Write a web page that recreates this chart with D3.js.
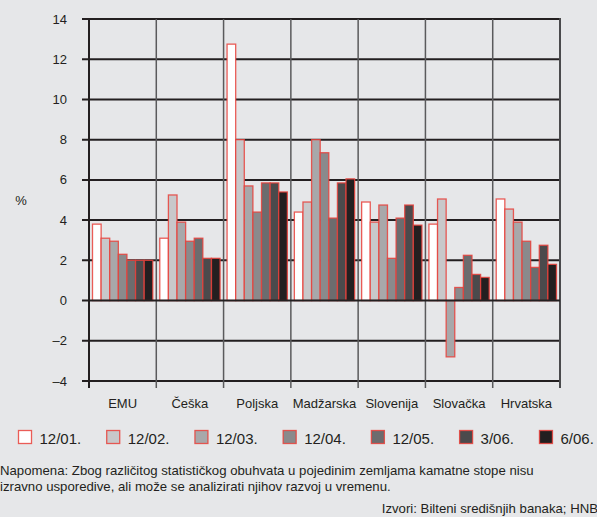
<!DOCTYPE html>
<html><head><meta charset="utf-8">
<script src="https://cdn.jsdelivr.net/npm/d3@7"></script>
<style>
html,body{margin:0;padding:0;background:#e6e7e9;}
svg{display:block;font-family:"Liberation Sans",Arial,Helvetica,sans-serif;}
</style></head>
<body>
<svg id="c" width="597" height="517"></svg>
<script>
const categories = ["EMU","Češka","Poljska","Madžarska","Slovenija","Slovačka","Hrvatska"];
const seriesNames = ["12/01.","12/02.","12/03.","12/04.","12/05.","3/06.","6/06."];
const s1201 = [3.8, 3.1, 12.75, 4.4, 4.9, 3.8, 5.05];
const s1202 = [3.1, 5.25, 8.0, 4.9, 3.9, 5.05, 4.55];
const s1203 = [2.95, 3.9, 5.7, 8.0, 4.75, -2.8, 3.9];
const s1204 = [2.3, 2.95, 4.4, 7.35, 2.1, 0.65, 2.95];
const s1205 = [2.0, 3.1, 5.85, 4.1, 4.1, 2.25, 1.65];
const s0306 = [2.0, 2.1, 5.85, 5.85, 4.75, 1.3, 2.75];
const s0606 = [2.0, 2.1, 5.4, 6.05, 3.75, 1.15, 1.8];
const yTicks = [-4,-2,0,2,4,6,8,10,12,14];
const noteLines = ["Napomena: Zbog različitog statističkog obuhvata u pojedinim zemljama kamatne stope nisu",
                   "izravno usporedive, ali može se analizirati njihov razvoj u vremenu."];
const sourceText = "Izvori: Bilteni središnjih banaka; HNB";

const series = [s1201,s1202,s1203,s1204,s1205,s0306,s0606];
const fills = ["#ffffff","#c8c8ca","#a8a8aa","#8a8a8c","#6c6c6e","#4b4a4c","#231f20"];
const red = "#e8413b";
const dark = "#231f20";

const svg = d3.select("#c");
const pLeft = 89, pRight = 560, pTop = 19, pBottom = 381;
const y = d3.scaleLinear().domain([-4,14]).range([pBottom, pTop]);
const x0 = d3.scaleBand().domain(categories).range([pLeft, pRight]);
const x1 = d3.scaleBand().domain(d3.range(7)).range([3.5, x0.bandwidth()-3.5]);

// horizontal gridlines
svg.append("g").selectAll("line").data(yTicks.filter(d=>d!==0)).join("line")
  .attr("x1", pLeft-7).attr("x2", pRight).attr("y1", d=>y(d)).attr("y2", d=>y(d))
  .attr("stroke", dark).attr("stroke-width", 2);

// category separators
const seps = categories.map(c=>x0(c)).slice(1);
svg.append("g").selectAll("line").data(seps).join("line")
  .attr("x1", d=>d).attr("x2", d=>d).attr("y1", pTop).attr("y2", pBottom+7)
  .attr("stroke", "#5a5a5c").attr("stroke-width", 1.5);
svg.append("line").attr("x1", pRight).attr("x2", pRight).attr("y1", pTop-1).attr("y2", pBottom+7)
  .attr("stroke", "#4a4a4c").attr("stroke-width", 2);

// bars
const g = svg.append("g");
categories.forEach((c, ci) => {
  series.forEach((s, si) => {
    const v = s[ci];
    g.append("rect")
      .attr("x", x0(c) + x1(si))
      .attr("width", x1.bandwidth())
      .attr("y", y(Math.max(0, v)))
      .attr("height", Math.abs(y(v) - y(0)))
      .attr("fill", fills[si])
      .attr("stroke", red).attr("stroke-opacity", 0.85).attr("stroke-width", 1.3);
  });
});

// zero line & y axis line
svg.append("line").attr("x1", pLeft-7).attr("x2", pRight).attr("y1", y(0)).attr("y2", y(0))
  .attr("stroke", dark).attr("stroke-width", 2);
svg.append("line").attr("x1", pLeft).attr("x2", pLeft).attr("y1", pTop-1).attr("y2", pBottom+7)
  .attr("stroke", dark).attr("stroke-width", 2);

// y tick labels
svg.append("g").selectAll("text").data(yTicks).join("text")
  .attr("x", 67).attr("y", d=>y(d)+4.5).attr("text-anchor","end")
  .attr("font-size", 13).attr("fill", dark)
  .text(d => d < 0 ? "\u2013" + Math.abs(d) : String(d));
svg.append("text").attr("x", 21).attr("y", 205).attr("text-anchor","middle")
  .attr("font-size", 13).attr("fill", dark).text("%");

// x labels
svg.append("g").selectAll("text").data(categories).join("text")
  .attr("x", d=>x0(d)+x0.bandwidth()/2).attr("y", 408).attr("text-anchor","middle")
  .attr("font-size", 13).attr("fill", dark).text(d=>d);

// legend
let lx = 18;
const lg = svg.append("g");
seriesNames.forEach((n, i) => {
  lg.append("rect").attr("x", lx+0.5).attr("y", 430.5).attr("width", 13).attr("height", 13)
    .attr("fill", fills[i]).attr("stroke", red).attr("stroke-width", 1.3).attr("stroke-opacity", 0.85);
  const t = lg.append("text").attr("x", lx+21.5).attr("y", 443.5).attr("font-size", 15)
    .attr("fill", dark).text(n);
  lx = lx + 21.5 + t.node().getComputedTextLength() + 25;
});

// note
svg.append("g").selectAll("text").data(noteLines).join("text")
  .attr("x", 0).attr("y", (d,i)=>475+i*15.5).attr("font-size", 13.2).attr("fill", dark).text(d=>d);
svg.append("text").attr("x", 598).attr("y", 513).attr("text-anchor","end")
  .attr("font-size", 13.2).attr("fill", dark).text(sourceText);
</script>
</body></html>
